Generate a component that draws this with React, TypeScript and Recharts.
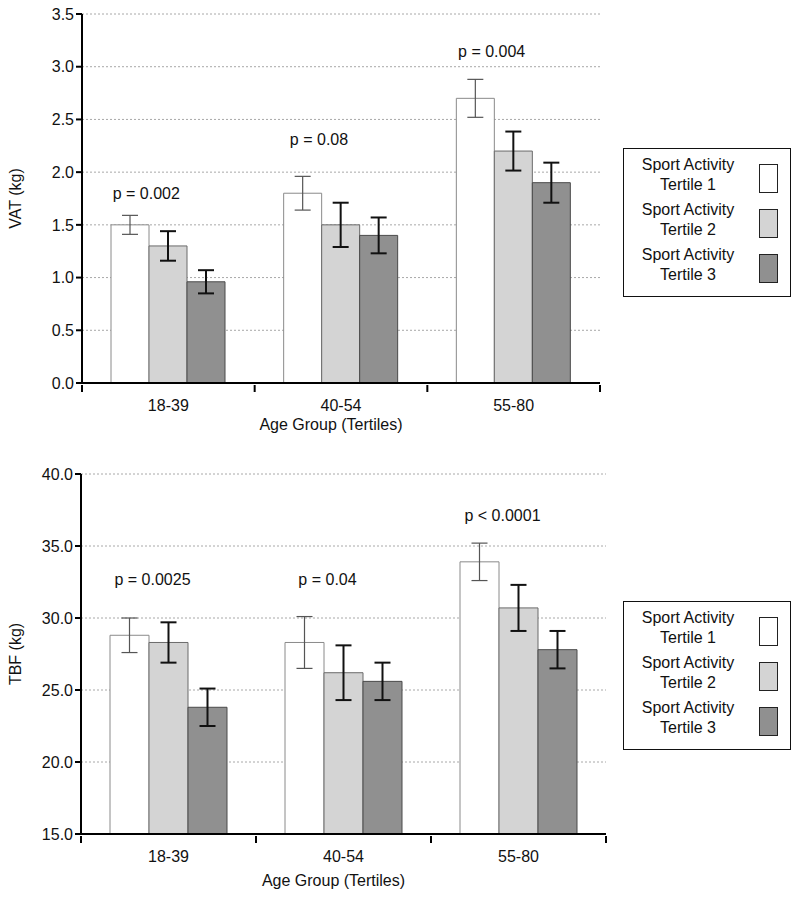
import React from "react";
import {
  BarChart,
  Bar,
  XAxis,
  YAxis,
  CartesianGrid,
  ErrorBar,
  ReferenceDot,
} from "recharts";

// age groups (x categories)
const ageGroups = ["18-39", "40-54", "55-80"];
const tertileNames = ["Tertile 1", "Tertile 2", "Tertile 3"];

// VAT (kg)
const vatT1 = [1.5, 1.8, 2.7];
const vatT2 = [1.3, 1.5, 2.2];
const vatT3 = [0.96, 1.4, 1.9];
const vatT1Err = [0.09, 0.16, 0.18];
const vatT2Err = [0.14, 0.21, 0.185];
const vatT3Err = [0.11, 0.17, 0.19];
const vatPText = ["p = 0.002", "p = 0.08", "p = 0.004"];
const vatPAt = [1.8, 2.31, 3.15];
const vatTicks = [0, 0.5, 1, 1.5, 2, 2.5, 3, 3.5];

// TBF (kg)
const tbfT1 = [28.8, 28.3, 33.9];
const tbfT2 = [28.3, 26.2, 30.7];
const tbfT3 = [23.8, 25.6, 27.8];
const tbfT1Err = [1.2, 1.8, 1.3];
const tbfT2Err = [1.4, 1.9, 1.6];
const tbfT3Err = [1.3, 1.3, 1.3];
const tbfPText = ["p = 0.0025", "p = 0.04", "p < 0.0001"];
const tbfPAt = [32.7, 32.7, 37.15];
const tbfTicks = [15, 20, 25, 30, 35, 40];

const FONT = '"Liberation Sans", Arial, sans-serif';
const fills = ["#ffffff", "#d4d4d4", "#909090"];
const strokes = ["#8a8a8a", "#6a6a6a", "#4a4a4a"];

function buildRows(t1: number[], t2: number[], t3: number[], e1: number[], e2: number[], e3: number[], pText: string[], pAt: number[]) {
  return ageGroups.map((g, i) => ({
    group: g,
    t1: t1[i],
    t2: t2[i],
    t3: t3[i],
    e1: e1[i],
    e2: e2[i],
    e3: e3[i],
    pText: pText[i],
    pAt: pAt[i],
  }));
}

const vatRows = buildRows(vatT1, vatT2, vatT3, vatT1Err, vatT2Err, vatT3Err, vatPText, vatPAt);
const tbfRows = buildRows(tbfT1, tbfT2, tbfT3, tbfT1Err, tbfT2Err, tbfT3Err, tbfPText, tbfPAt);

interface PanelProps {
  rows: ReturnType<typeof buildRows>;
  height: number;
  top: number;
  rightMargin: number;
  axisWidth: number;
  domain: [number, number];
  ticks: number[];
  yLabel: string;
  pDx: number;
  xLabelOffset: number;
}

function Panel({ rows, height, top, rightMargin, axisWidth, domain, ticks, yLabel, pDx, xLabelOffset }: PanelProps) {
  const bandWidth = (800 - rightMargin - axisWidth) / ageGroups.length;

  const renderTick = (props: any) => {
    const { x, y, payload, index } = props;
    return (
      <g>
        <line x1={x - bandWidth / 2} x2={x - bandWidth / 2} y1={y} y2={y + 7} stroke="#000" strokeWidth={2} />
        {index === ageGroups.length - 1 && (
          <line x1={x + bandWidth / 2} x2={x + bandWidth / 2} y1={y} y2={y + 7} stroke="#000" strokeWidth={2} />
        )}
        <text x={x} y={y + 26} textAnchor="middle" fontSize={16} fill="#111" fontFamily={FONT}>
          {payload.value}
        </text>
      </g>
    );
  };

  return (
    <div style={{ position: "absolute", left: 0, top, width: 800, height }}>
      <BarChart
        width={800}
        height={height}
        data={rows}
        margin={{ top: top === 0 ? 14 : 24, right: rightMargin, bottom: 0, left: 0 }}
        barCategoryGap={29}
        barGap={0}
      >
        <CartesianGrid vertical={false} stroke="#a8a8a8" strokeDasharray="2 2" />
        <XAxis
          dataKey="group"
          height={67}
          tickLine={false}
          tickSize={0}
          axisLine={{ stroke: "#000", strokeWidth: 2 }}
          tick={renderTick}
          interval={0}
          label={{
            value: "Age Group (Tertiles)",
            position: "insideTop",
            offset: xLabelOffset,
            dx: -10,
            fontSize: 16,
            fill: "#111",
            fontFamily: FONT,
          }}
        />
        <YAxis
          width={axisWidth}
          domain={domain}
          ticks={ticks}
          allowDataOverflow
          tickFormatter={(v: number) => v.toFixed(1)}
          tick={{ fontSize: 16, fill: "#111", fontFamily: FONT }}
          tickLine={{ stroke: "#000", strokeWidth: 2 }}
          tickSize={6}
          axisLine={{ stroke: "#000", strokeWidth: 2 }}
          label={{
            value: yLabel,
            angle: -90,
            position: "center",
            dx: -(axisWidth / 2 - 15),
            fontSize: 16,
            fill: "#111",
            fontFamily: FONT,
          }}
        />
        <Bar dataKey="t1" name={tertileNames[0]} fill={fills[0]} stroke={strokes[0]} strokeWidth={1} isAnimationActive={false}>
          <ErrorBar dataKey="e1" width={8} stroke="#555" strokeWidth={1.2} />
        </Bar>
        <Bar dataKey="t2" name={tertileNames[1]} fill={fills[1]} stroke={strokes[1]} strokeWidth={1} isAnimationActive={false}>
          <ErrorBar dataKey="e2" width={8} stroke="#111" strokeWidth={2} />
        </Bar>
        <Bar dataKey="t3" name={tertileNames[2]} fill={fills[2]} stroke={strokes[2]} strokeWidth={1} isAnimationActive={false}>
          <ErrorBar dataKey="e3" width={8} stroke="#111" strokeWidth={2} />
        </Bar>
        {rows.map((r) => (
          <ReferenceDot
            key={r.group}
            x={r.group}
            y={r.pAt}
            r={0}
            fill="none"
            stroke="none"
            label={{ value: r.pText, position: "center", dx: pDx, fontSize: 16, fill: "#111", fontFamily: FONT }}
          />
        ))}
      </BarChart>
    </div>
  );
}

function LegendBox({ top }: { top: number }) {
  return (
    <div
      style={{
        position: "absolute",
        left: 623,
        top,
        width: 166,
        height: 147,
        border: "1.5px solid #111",
        background: "#fff",
        fontFamily: FONT,
        fontSize: 16,
        color: "#111",
      }}
    >
      {tertileNames.map((t, i) => (
        <div key={t} style={{ position: "absolute", left: 0, top: 6 + i * 45, width: 166, height: 44 }}>
          <div style={{ position: "absolute", left: 0, width: 128, textAlign: "center", lineHeight: "20px" }}>
            Sport Activity
            <br />
            {t}
          </div>
          <div
            style={{
              position: "absolute",
              left: 135,
              top: 9,
              width: 17,
              height: 27,
              background: fills[i],
              border: "1.2px solid #222",
            }}
          />
        </div>
      ))}
    </div>
  );
}

export default function App() {
  return (
    <div style={{ position: "absolute", left: 0, top: 0, width: 800, height: 901, background: "#fff" }}>
      <Panel
        rows={vatRows}
        height={450}
        top={0}
        rightMargin={200}
        axisWidth={82}
        domain={[0, 3.5]}
        ticks={vatTicks}
        yLabel="VAT (kg)"
        pDx={-22}
        xLabelOffset={36}
      />
      <Panel
        rows={tbfRows}
        height={451}
        top={450}
        rightMargin={194}
        axisWidth={81}
        domain={[15, 40]}
        ticks={tbfTicks}
        yLabel="TBF (kg)"
        pDx={-16}
        xLabelOffset={41}
      />
      <LegendBox top={148} />
      <LegendBox top={601} />
    </div>
  );
}
